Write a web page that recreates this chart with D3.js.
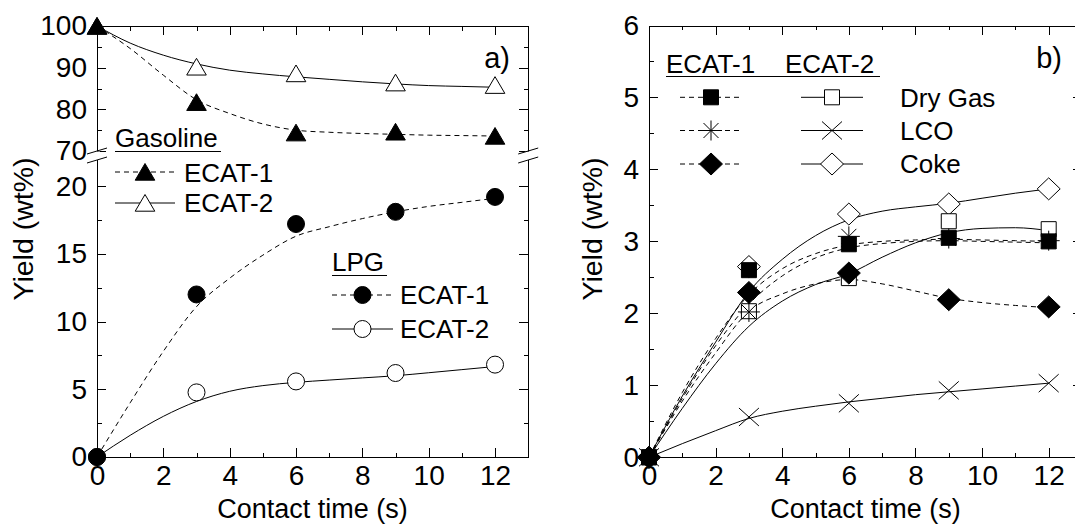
<!DOCTYPE html>
<html>
<head>
<meta charset="utf-8">
<script src="https://cdn.jsdelivr.net/npm/d3@7"></script>
<style>
  html, body { margin: 0; padding: 0; background: #fff; }
  svg { display: block; font-family: "Liberation Sans", Arial, sans-serif; }
</style>
</head>
<body>
<svg id="chart" width="1075" height="524"></svg>
<script>
// ---- measured yields (wt%) at each contact time (s) ----
const contactTime = [0, 3, 6, 9, 12];

const gasolineEcat1 = [100, 81.7, 74.4, 74.6, 73.6];
const gasolineEcat2 = [100, 90.2, 88.6, 86.4, 85.8];
const lpgEcat1 = [0, 12.0, 17.2, 18.1, 19.2];
const lpgEcat2 = [0, 4.77, 5.58, 6.2, 6.82];

const dryGasEcat1 = [0, 2.60, 2.96, 3.05, 3.00];
const dryGasEcat2 = [0, 2.03, 2.49, 3.28, 3.17];
const lcoEcat1 = [0, 2.02, 3.07, 3.04, 3.01];
const lcoEcat2 = [0, 0.56, 0.75, 0.93, 1.03];
const cokeEcat1 = [0, 2.29, 2.56, 2.19, 2.09];
const cokeEcat2 = [0, 2.65, 3.38, 3.52, 3.73];

// ---- fitted trend curves, sampled every second ----
const fitTime = [0, 1, 2, 3, 4, 5, 6, 7, 8, 9, 10, 11, 12];

const gasolineEcat1Fit = [100, 94.6, 88.2, 82.3, 79.0, 76.5, 75.0, 74.5, 74.2, 74.0, 73.8, 73.7, 73.6];
const gasolineEcat2Fit = [100, 95.9, 93.0, 90.9, 89.4, 88.5, 87.8, 87.2, 86.6, 86.1, 85.7, 85.5, 85.3];
const lpgEcat1Fit = [0, 4.0, 7.8, 11.1, 13.2, 14.9, 16.3, 17.0, 17.6, 18.1, 18.5, 18.8, 19.1];
const lpgEcat2Fit = [0, 1.6, 3.0, 4.1, 4.85, 5.27, 5.51, 5.68, 5.84, 6.0, 6.22, 6.45, 6.68];

const dryGasEcat1Fit = [0, 0.9, 1.65, 2.26, 2.62, 2.83, 2.95, 3.0, 3.02, 3.03, 3.02, 3.01, 3.0];
const lcoEcat1Fit = [0, 0.82, 1.55, 2.13, 2.52, 2.77, 2.91, 2.97, 3.0, 3.01, 3.0, 2.99, 2.98];
const cokeEcat1Fit = [0, 0.78, 1.45, 2.03, 2.27, 2.41, 2.47, 2.41, 2.31, 2.21, 2.15, 2.11, 2.08];
const dryGasEcat2Fit = [0, 0.68, 1.3, 1.82, 2.17, 2.4, 2.55, 2.78, 2.98, 3.12, 3.18, 3.19, 3.15];
const lcoEcat2Fit = [0, 0.19, 0.37, 0.54, 0.64, 0.71, 0.77, 0.82, 0.87, 0.91, 0.95, 0.99, 1.03];
const cokeEcat2Fit = [0, 0.85, 1.6, 2.3, 2.75, 3.08, 3.3, 3.42, 3.48, 3.53, 3.6, 3.67, 3.73];

// ---- tick values ----
const timeTicks = [0, 2, 4, 6, 8, 10, 12];
const timeMinorTicks = [1, 3, 5, 7, 9, 11];
const gasolineTicks = [70, 80, 90, 100];
const gasolineMinorTicks = [75, 85, 95];
const lpgTicks = [0, 5, 10, 15, 20];
const lpgMinorTicks = [2.5, 7.5, 12.5, 17.5];
const yieldTicks = [0, 1, 2, 3, 4, 5, 6];
const yieldMinorTicks = [0.5, 1.5, 2.5, 3.5, 4.5, 5.5];

// ---- text ----
const xTitle = "Contact time (s)";
const yTitle = "Yield (wt%)";
const gasolineTitle = "Gasoline";
const lpgTitle = "LPG";
const catalystNames = ["ECAT-1", "ECAT-2"];
const productNames = ["Dry Gas", "LCO", "Coke"];

const svg = d3.select("#chart");
const TICK_FONT = 28, X_TITLE_FONT = 27, Y_TITLE_FONT = 28.5, LEGEND_FONT = 26;
const intFormat = d3.format("d");

// ---- marker shapes ----
const shapes = {
  triangle: "M0,-8.5L9.8,8.2L-9.8,8.2Z",
  square: "M-7.5,-7.5H7.5V7.5H-7.5Z",
  diamond: "M0,-11L11.5,0L0,11L-11.5,0Z",
  cross: "M-10,-9L10,9M-10,9L10,-9",
  star: "M0,-10V10M-11,0H11M-7.5,-7.5L7.5,7.5M-7.5,7.5L7.5,-7.5"
};

function marker(g, shape, filled, cx, cy) {
  if (shape === "circle") {
    g.append("circle").attr("cx", cx).attr("cy", cy).attr("r", 8.5)
      .attr("fill", filled ? "#000" : "#fff").attr("stroke", "#000").attr("stroke-width", 1);
  } else {
    const open = shape === "cross" || shape === "star";
    g.append("path").attr("d", shapes[shape])
      .attr("transform", `translate(${cx},${cy})`)
      .attr("fill", open ? "none" : (filled ? "#000" : "#fff"))
      .attr("stroke", "#000").attr("stroke-width", 1);
  }
}

function series(g, x, y, values, shape, filled) {
  values.forEach((v, i) => marker(g, shape, filled, x(contactTime[i]), y(v)));
}

function fitLine(g, x, y, values, dashed) {
  const line = d3.line().x((d, i) => x(fitTime[i])).y(d => y(d)).curve(d3.curveMonotoneX);
  g.append("path").attr("d", line(values)).attr("fill", "none")
    .attr("stroke", "#000").attr("stroke-width", 1)
    .attr("stroke-dasharray", dashed ? "5,4" : null);
}

function axis(g, gen, values, size, withLabels, pad, keepDomain) {
  gen.tickValues(values).tickSizeInner(size).tickSizeOuter(0).tickPadding(pad || 0);
  gen.tickFormat(withLabels ? intFormat : "");
  g.call(gen);
  g.attr("font-family", null).attr("font-size", TICK_FONT).attr("shape-rendering", "crispEdges");
  g.selectAll("line").attr("stroke", "#000");
  g.selectAll("text").attr("fill", "#000");
  if (keepDomain) g.select(".domain").attr("stroke", "#000");
  else g.select(".domain").remove();
  return g;
}

function timeAxes(g, x, top, bottom) {
  axis(g.append("g").attr("transform", `translate(0,${bottom})`), d3.axisBottom(x), timeTicks, -9, true, 8, true);
  axis(g.append("g").attr("transform", `translate(0,${bottom})`), d3.axisBottom(x), timeMinorTicks, -4.5, false);
  axis(g.append("g").attr("transform", `translate(0,${top})`), d3.axisTop(x), timeTicks, -9, false, 0, true);
  axis(g.append("g").attr("transform", `translate(0,${top})`), d3.axisTop(x), timeMinorTicks, -4.5, false);
}

function valueAxes(g, y, xLeft, xRight, major, minor) {
  axis(g.append("g").attr("transform", `translate(${xLeft},0)`), d3.axisLeft(y), major, -9, true, 10, true);
  axis(g.append("g").attr("transform", `translate(${xLeft},0)`), d3.axisLeft(y), minor, -4.5, false);
  axis(g.append("g").attr("transform", `translate(${xRight},0)`), d3.axisRight(y), major, -9, false, 0, true);
  axis(g.append("g").attr("transform", `translate(${xRight},0)`), d3.axisRight(y), minor, -4.5, false);
}

function titles(g, cx, cy, xTitleY, yTitleX) {
  g.append("text").attr("x", cx).attr("y", xTitleY).attr("text-anchor", "middle")
    .attr("font-size", X_TITLE_FONT).text(xTitle);
  g.append("text").attr("transform", `translate(${yTitleX},${cy}) rotate(-90)`)
    .attr("text-anchor", "middle").attr("font-size", Y_TITLE_FONT).text(yTitle);
}

function legendRow(g, x0, x1, y, shape, filled, dashed) {
  g.append("line").attr("x1", x0).attr("x2", x1).attr("y1", y).attr("y2", y)
    .attr("stroke", "#000").attr("stroke-width", 1)
    .attr("stroke-dasharray", dashed ? "5,4" : null);
  marker(g, shape, filled, (x0 + x1) / 2, y);
}

function underlined(g, x, y, txt, width) {
  g.append("text").attr("x", x).attr("y", y).attr("font-size", LEGEND_FONT).text(txt);
  g.append("line").attr("x1", x).attr("x2", x + width).attr("y1", y + 4.5).attr("y2", y + 4.5)
    .attr("stroke", "#000").attr("stroke-width", 1.2);
}

// =============== panel a) gasoline and LPG ===============
{
  const g = svg.append("g");
  const xL = d3.scaleLinear([0, 13], [97, 528.2]);
  const yUp = d3.scaleLinear([70, 100], [151, 26]);
  const yLow = d3.scaleLinear([0, 22], [457, 159]);

  timeAxes(g, xL, 26, 457);
  valueAxes(g, yUp, xL(0), xL(13), gasolineTicks, gasolineMinorTicks);
  valueAxes(g, yLow, xL(0), xL(13), lpgTicks, lpgMinorTicks);

  // axis break marks on both vertical axes
  [xL(0), xL(13)].forEach(ax => {
    g.append("rect").attr("x", ax - 3).attr("y", 151.5).attr("width", 6).attr("height", 7.5).attr("fill", "#fff");
    [151, 160].forEach(cy => {
      g.append("line").attr("x1", ax - 10).attr("y1", cy + 3).attr("x2", ax + 10).attr("y2", cy - 3)
        .attr("stroke", "#000").attr("stroke-width", 1);
    });
  });

  fitLine(g, xL, yUp, gasolineEcat2Fit, false);
  fitLine(g, xL, yUp, gasolineEcat1Fit, true);
  fitLine(g, xL, yLow, lpgEcat2Fit, false);
  fitLine(g, xL, yLow, lpgEcat1Fit, true);

  series(g, xL, yUp, gasolineEcat2, "triangle", false);
  series(g, xL, yUp, gasolineEcat1, "triangle", true);
  series(g, xL, yLow, lpgEcat2, "circle", false);
  series(g, xL, yLow, lpgEcat1, "circle", true);

  // legends
  underlined(g, 115, 147, gasolineTitle, 106);
  legendRow(g, 115, 175, 172, "triangle", true, true);
  legendRow(g, 115, 175, 203, "triangle", false, false);
  g.append("text").attr("x", 184).attr("y", 181.5).attr("font-size", LEGEND_FONT).text(catalystNames[0]);
  g.append("text").attr("x", 184).attr("y", 212).attr("font-size", LEGEND_FONT).text(catalystNames[1]);

  underlined(g, 332, 271, lpgTitle, 55);
  legendRow(g, 332, 393, 295, "circle", true, true);
  legendRow(g, 332, 393, 329, "circle", false, false);
  g.append("text").attr("x", 400).attr("y", 303.5).attr("font-size", LEGEND_FONT).text(catalystNames[0]);
  g.append("text").attr("x", 400).attr("y", 337.5).attr("font-size", LEGEND_FONT).text(catalystNames[1]);

  g.append("text").attr("x", 510).attr("y", 68).attr("text-anchor", "end").attr("font-size", 29).text("a)");
  titles(g, (xL(0) + xL(13)) / 2, 229, 518, 33);
}

// =============== panel b) dry gas, LCO and coke ===============
{
  const g = svg.append("g");
  const xR = d3.scaleLinear([0, 13], [649, 1082]);
  const yR = d3.scaleLinear([0, 6], [457.3, 25.5]);

  timeAxes(g, xR, yR(6), yR(0));
  valueAxes(g, yR, xR(0), xR(13), yieldTicks, yieldMinorTicks);

  fitLine(g, xR, yR, cokeEcat2Fit, false);
  fitLine(g, xR, yR, dryGasEcat2Fit, false);
  fitLine(g, xR, yR, lcoEcat2Fit, false);
  fitLine(g, xR, yR, lcoEcat1Fit, true);
  fitLine(g, xR, yR, cokeEcat1Fit, true);
  fitLine(g, xR, yR, dryGasEcat1Fit, true);

  series(g, xR, yR, cokeEcat2, "diamond", false);
  series(g, xR, yR, dryGasEcat2, "square", false);
  series(g, xR, yR, lcoEcat2, "cross", false);
  series(g, xR, yR, lcoEcat1, "star", true);
  series(g, xR, yR, cokeEcat1, "diamond", true);
  series(g, xR, yR, dryGasEcat1, "square", true);

  // legend: catalyst columns, product rows
  g.append("text").attr("x", 666).attr("y", 72.5).attr("font-size", LEGEND_FONT).text(catalystNames[0]);
  g.append("text").attr("x", 785).attr("y", 72.5).attr("font-size", LEGEND_FONT).text(catalystNames[1]);
  g.append("line").attr("x1", 666).attr("x2", 880).attr("y1", 76.5).attr("y2", 76.5)
    .attr("stroke", "#000").attr("stroke-width", 1.2);
  const rowY = [97.3, 130.5, 164];
  const rowShapes = ["square", "star", "diamond"];
  const rowShapes2 = ["square", "cross", "diamond"];
  productNames.forEach((name, i) => {
    legendRow(g, 680, 742, rowY[i], rowShapes[i], true, true);
    legendRow(g, 801, 863, rowY[i], rowShapes2[i], false, false);
    g.append("text").attr("x", 900).attr("y", rowY[i] + 9.3).attr("font-size", LEGEND_FONT).text(name);
  });

  g.append("text").attr("x", 1062).attr("y", 68).attr("text-anchor", "end").attr("font-size", 29).text("b)");
  titles(g, (xR(0) + xR(13)) / 2, 229, 518, 602);
}
</script>
</body>
</html>
